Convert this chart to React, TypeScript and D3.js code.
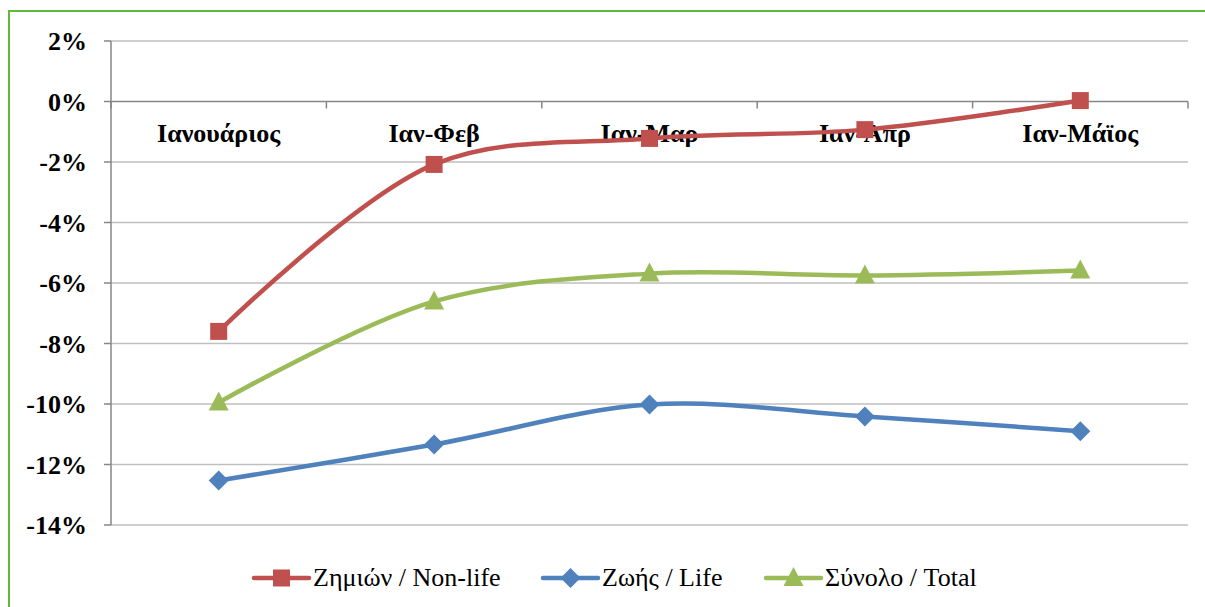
import React, {JSX} from "react";
import * as d3 from "d3";

const months = ["Ιανουάριος", "Ιαν-Φεβ", "Ιαν-Μαρ", "Ιαν-Απρ", "Ιαν-Μάϊος"];
const nonLife = [-7.6, -2.08, -1.22, -0.93, 0.03];
const life = [-12.53, -11.34, -10.02, -10.41, -10.9];
const total = [-9.95, -6.61, -5.69, -5.75, -5.59];
const yTicks = [2, 0, -2, -4, -6, -8, -10, -12, -14];

const seriesList = [
    {name: "Ζημιών / Non-life", values: nonLife, color: "#C0504D", marker: "square"},
    {name: "Ζωής / Life", values: life, color: "#4F81BD", marker: "diamond"},
    {name: "Σύνολο / Total", values: total, color: "#9BBB59", marker: "triangle"},
];

const Marker = ({kind, x, y, color}: {kind: string, x: number, y: number, color: string}): JSX.Element => {
    if (kind === "square") return <rect x={x - 8.5} y={y - 8.5} width={17} height={17} fill={color}/>;
    if (kind === "diamond") return <path d={`M${x},${y - 10}L${x + 10},${y}L${x},${y + 10}L${x - 10},${y}Z`} fill={color}/>;
    return <path d={`M${x},${y - 11}L${x + 10},${y + 8}L${x - 10},${y + 8}Z`} fill={color}/>;
};

export default function App(): JSX.Element {
    const width = 1205
    const height = 607
    const marginLeft = 111
    const marginRight = 1188
    const x = d3.scaleBand<string>(months, [marginLeft, marginRight]);
    const y = d3.scaleLinear([2, -14], [41, 525]);
    const cx = (m: string) => (x(m) as number) + x.bandwidth() / 2;
    const line = d3.line<number>((d, i) => cx(months[i]), y).curve(d3.curveCatmullRom.alpha(0.5));
    const boundaries = months.map(m => x(m) as number).concat([marginRight]);
    const legendX = [254, 543, 766];
    const serif = {fontFamily: "Liberation Serif"};

    return (
        <svg width={width} height={height} style={{position: "absolute", left: 0, top: 0}}>
            <rect x={0} y={0} width={width} height={height} fill="white"/>
            <rect x={9} y={11} width={width + 10} height={height + 10} fill="none" stroke="#5DBB3A" strokeWidth={2}/>
            {yTicks.map(t => (
                <g key={t}>
                    {t !== 0 && <line x1={marginLeft} x2={marginRight} y1={y(t)} y2={y(t)} stroke="#BFBFBF" strokeWidth={1.5}/>}
                    <line x1={104} x2={marginLeft} y1={y(t)} y2={y(t)} stroke="#868686" strokeWidth={1.5}/>
                    <text x={87} y={y(t) + 9} textAnchor="end" fontWeight="bold" fontSize={26} style={serif}>{t}%</text>
                </g>
            ))}
            <line x1={marginLeft} x2={marginLeft} y1={y(2)} y2={y(-14)} stroke="#868686" strokeWidth={1.5}/>
            <line x1={marginLeft} x2={marginRight} y1={y(0)} y2={y(0)} stroke="#868686" strokeWidth={1.5}/>
            {boundaries.map((b, i) => (
                <line key={i} x1={b} x2={b} y1={y(0)} y2={y(0) + 7} stroke="#868686" strokeWidth={1.5}/>
            ))}
            {months.map(m => (
                <text key={m} x={cx(m)} y={142} textAnchor="middle" fontWeight="bold" fontSize={26} style={serif}>{m}</text>
            ))}
            {seriesList.map(s => (
                <path key={s.name} d={line(s.values) as string} fill="none" stroke={s.color} strokeWidth={4.5} strokeLinejoin="round"/>
            ))}
            {seriesList.map(s => (
                <g key={s.name}>
                    {s.values.map((v, i) => <Marker key={i} kind={s.marker} x={cx(months[i])} y={y(v)} color={s.color}/>)}
                </g>
            ))}
            {seriesList.map((s, i) => (
                <g key={s.name}>
                    <line x1={legendX[i]} x2={legendX[i] + 55} y1={578} y2={578} stroke={s.color} strokeWidth={4.5} strokeLinecap="round"/>
                    <Marker kind={s.marker} x={legendX[i] + 27.5} y={578} color={s.color}/>
                    <text x={legendX[i] + 59} y={586} fontSize={26} style={serif}>{s.name}</text>
                </g>
            ))}
        </svg>
    )
}
